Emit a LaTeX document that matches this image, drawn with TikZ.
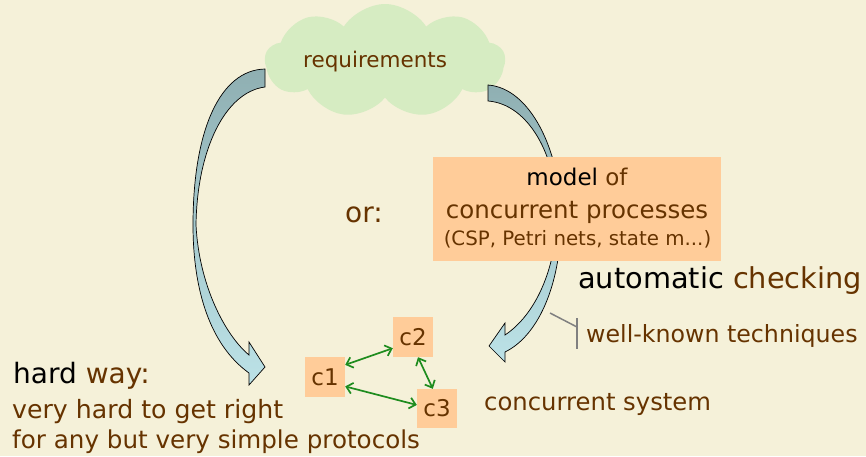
\documentclass[tikz,border=0pt]{standalone}
\usepackage{fontspec}
\setmainfont{DejaVu Sans}
\usetikzlibrary{shapes.symbols,arrows.meta,calc}
\definecolor{bg}{HTML}{F5F1D9}
\definecolor{brn}{HTML}{663300}
\definecolor{peach}{HTML}{FFCC99}
\definecolor{cloudgreen}{HTML}{D6ECC2}
\definecolor{arrdark}{HTML}{8FAFB2}
\definecolor{arrmid}{HTML}{A6CACE}
\definecolor{arrlight}{HTML}{BCE2E7}
\definecolor{linkgreen}{HTML}{1E8C1E}
\definecolor{calloutgray}{HTML}{808080}
\newcommand\fs[1]{\fontsize{#1}{#1}\selectfont}

\begin{document}
\begin{tikzpicture}[x=1pt,y=-1pt,
  txt/.style={inner sep=0pt, anchor=base west, text=brn},
  ctxt/.style={inner sep=0pt, anchor=base, text=brn},
  cbox/.style={fill=peach, minimum width=40pt, minimum height=40pt, inner sep=0pt, text=brn, font=\fs{23}},
  link/.style={draw=linkgreen, line width=1.7pt, {Straight Barb[length=6pt,width=11pt]}-{Straight Barb[length=6pt,width=11pt]}},
  blockarrow/.style={draw=black, line width=0.7pt, top color=arrdark, bottom color=arrlight, middle color=arrmid},
  callout/.style={draw=calloutgray, line width=1.5pt}
]
% page background
\fill[bg] (0,0) rectangle (866,456);
\useasboundingbox (0,0) rectangle (866,456);

% requirements cloud
\node[cloud, cloud puffs=9, cloud puff arc=115, aspect=2.0, fill=cloudgreen,
      minimum width=240pt, minimum height=114pt, inner sep=0pt] (req) at (385,61) {};
\node[txt, font=\fs{21.5}] (reqtext) at (303,67) {requirements};

% hard way: curved block arrow on the left
\path[blockarrow] (265,69) .. controls (220,70) and (193,130) .. (193,225)
  .. controls (193,290) and (210,345) .. (249,373)
  -- (249,385) -- (265,367) -- (249,342) -- (249,355)
  .. controls (225,335) and (199,285) .. (196,225)
  .. controls (197,150) and (225,92) .. (265,87) -- cycle;

% model route: curved block arrow on the right (passes behind the model box)
\path[blockarrow] (488,85) .. controls (530,88) and (560,150) .. (561,215)
  .. controls (562,280) and (540,335) .. (505,352)
  -- (505,362) -- (489,346) -- (505,323) -- (505,335)
  .. controls (535,315) and (556,270) .. (557,215)
  .. controls (557,155) and (528,104) .. (488,101) -- cycle;

% model box
\node[fill=peach, minimum width=288pt, minimum height=104pt, inner sep=0pt] (model) at (577,209) {};
\node[ctxt, font=\fs{23}] (modeltext) at (577,185) {\textcolor{black}{model} of};
\node[ctxt, font=\fs{24.5}] (proctext) at (577,218) {concurrent processes};
\node[ctxt, font=\fs{19.8}] (kindtext) at (577.5,245) {(CSP, Petri nets, state m...)};

% side labels
\node[txt, font=\fs{28}] (ortext) at (345,222) {or:};
\node[txt, font=\fs{28.8}] (autotext) at (578,288) {\textcolor{black}{automatic} checking};
\node[txt, font=\fs{23.7}] (techtext) at (586,342) {well-known techniques};
\coordinate (tickA) at (550,313);
\coordinate (tickB) at (577,327);
\coordinate (barTop) at (577,318);
\coordinate (barBot) at (577,349);
\draw[callout] (tickA) -- (tickB);
\draw[callout] (barTop) -- (barBot);

\node[txt, font=\fs{28}] (hardtext) at (13,383) {\textcolor{black}{hard} way:};
\node[txt, font=\fs{25.2}] (line1) at (12,418) {very hard to get right};
\node[txt, font=\fs{24.6}] (line2) at (12,448) {for any but very simple protocols};
\node[txt, font=\fs{24.3}] (systext) at (484,410) {concurrent system};

% concurrent system components
\node[cbox] (c1) at (325,377) {c1};
\node[cbox] (c2) at (413,337) {c2};
\node[cbox, minimum height=39pt] (c3) at (437,408.5) {c3};
\draw[link] (c1.31) -- (c2.209);
\draw[link] (c2.-76) -- (c3.102);
\draw[link] (c1.-25) -- (c3.170);
\end{tikzpicture}
\end{document}
